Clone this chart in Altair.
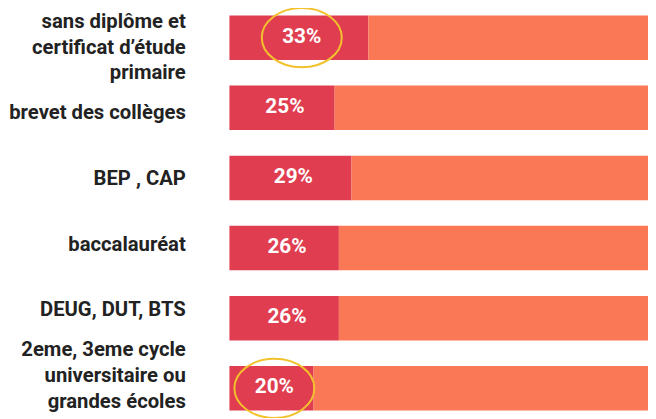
import altair as alt
import pandas as pd

categories = [
    "sans diplôme et\ncertificat d\u2019étude\nprimaire",
    "brevet des collèges",
    "BEP , CAP",
    "baccalauréat",
    "DEUG, DUT, BTS",
    "2eme, 3eme cycle\nuniversitaire ou\ngrandes écoles",
]
values = [33, 25, 29, 26, 26, 20]
highlight = [True, False, False, False, False, True]

rows = []
for c, v in zip(categories, values):
    rows.append({"cat": c, "part": "share", "amount": v, "order": 0})
    rows.append({"cat": c, "part": "rest", "amount": 100 - v, "order": 1})
long_df = pd.DataFrame(rows)
df = pd.DataFrame({"cat": categories, "value": values, "hl": highlight})
df["mid"] = df["value"] / 2
df["label"] = df["value"].astype(str) + "%"

RED = "#E03E50"
ORANGE = "#FA7855"
YELLOW = "#F3C12C"
LINE_H = 26
LABEL_RANGE = [4.4, 403.4]
HALF_BAND = (LABEL_RANGE[1] - LABEL_RANGE[0]) / len(categories) / 2

yenc = alt.Y("cat:N", sort=categories, axis=None,
             scale=alt.Scale(paddingInner=0.366, paddingOuter=0.07))
xscale = alt.Scale(domain=[0, 99.3], nice=False)

bars = alt.Chart(long_df).mark_bar(clip=True).encode(
    x=alt.X("amount:Q", stack="zero", axis=None, scale=xscale),
    y=yenc,
    color=alt.Color("part:N", scale=alt.Scale(domain=["share", "rest"], range=[RED, ORANGE]), legend=None),
    order=alt.Order("order:Q"),
)

pct = alt.Chart(df).mark_text(font="Roboto", fontWeight="bold", fontSize=21, color="white",
                              align="center", baseline="middle", dx=3, dy=-1).encode(
    x=alt.X("mid:Q", scale=xscale),
    y=yenc,
    text="label:N",
)

ell_path = "M -1 0 A 1 0.74 0 1 0 1 0 A 1 0.74 0 1 0 -1 0 Z"
ellipses = alt.Chart(df).transform_filter("datum.hl").mark_point(
    shape=ell_path, filled=False, stroke=YELLOW, strokeWidth=2, size=6561, opacity=1
).encode(
    x=alt.X("mid:Q", scale=xscale),
    y=yenc,
    xOffset=alt.value(3),
)

labels = alt.Chart(df).transform_calculate(
    off=f"(1 - length(split(datum.cat, '\\n'))) * {LINE_H / 2} + {HALF_BAND}"
).mark_text(font="Roboto", fontWeight="bold", fontSize=20.5, color="#222222",
            align="right", baseline="middle", lineBreak="\n", lineHeight=LINE_H).encode(
    x=alt.value(-44),
    y=alt.Y("cat:N", sort=categories, axis=None,
            scale=alt.Scale(range=LABEL_RANGE, paddingInner=0, paddingOuter=0)),
    yOffset=alt.YOffset("off:Q", scale=None),
    text="cat:N",
)

chart = alt.layer(alt.layer(bars, pct, ellipses), labels).resolve_scale(y="independent").properties(
    width=424, height=410,
    autosize=alt.AutoSizeParams(type="none"),
    padding={"left": 224, "top": 0, "right": 0, "bottom": 0},
).configure_view(stroke=None)

chart.save("out.html", embed_options={"renderer": "svg", "actions": False})
